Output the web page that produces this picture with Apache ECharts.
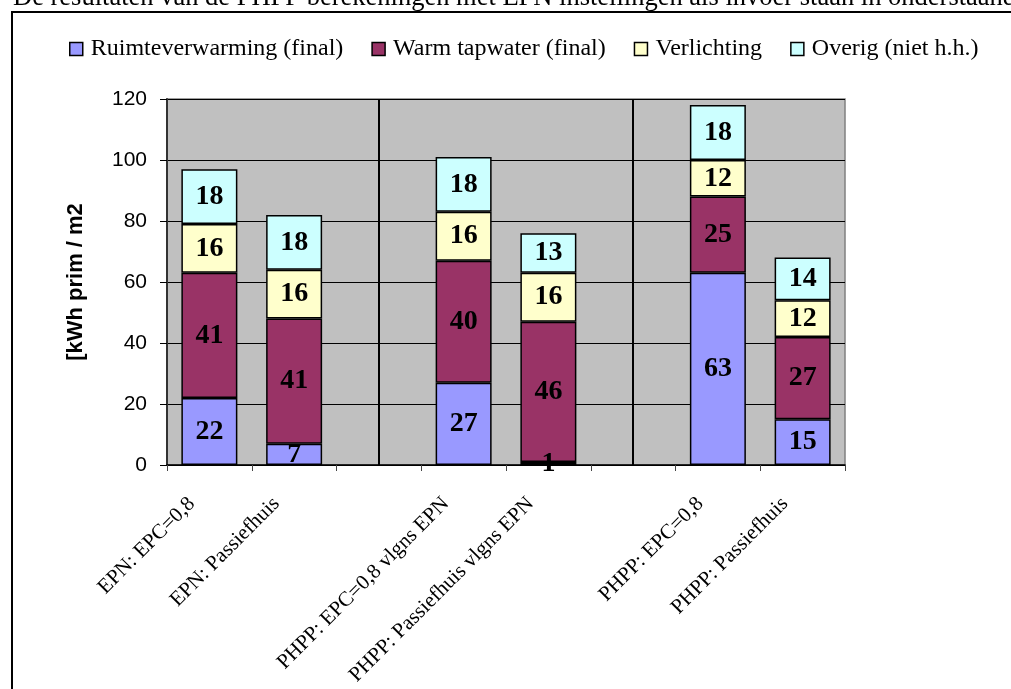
<!DOCTYPE html>
<html>
<head>
<meta charset="utf-8">
<script src="https://cdn.jsdelivr.net/npm/echarts@6/dist/echarts.min.js"></script>
<style>
  html, body { margin: 0; padding: 0; background: #fff; }
  #main { width: 1011px; height: 689px; }
</style>
</head>
<body>
<div id="main"></div>
<script>
// categories (empty slots hold the separator lines)
const categories = [
  'EPN: EPC=0,8',
  'EPN: Passiefhuis',
  '',
  'PHPP: EPC=0,8 vlgns EPN',
  'PHPP: Passiefhuis vlgns EPN',
  ' ',
  'PHPP: EPC=0,8',
  'PHPP: Passiefhuis'
];
const seriesNames = ['Ruimteverwarming (final)', 'Warm tapwater (final)', 'Verlichting', 'Overig (niet h.h.)'];
const colors = ['#9999FF', '#993366', '#FFFFCC', '#CCFFFF'];

const ruimte      = [22, 7, null, 27, 1, null, 63, 15];
const warm        = [41, 41, null, 40, 46, null, 25, 27];
const verlichting = [16, 16, null, 16, 16, null, 12, 12];
const overig      = [18, 18, null, 18, 13, null, 18, 14];

const separators = [2, 5];

const yMin = 0, yMax = 120, yStep = 20;

const serif = '"Liberation Serif", "Times New Roman", serif';
const sans = '"Liberation Sans", Arial, sans-serif';

const chart = echarts.init(document.getElementById('main'));

function makeSeries(name, data, color, idx) {
  let s = {
    name: name,
    type: 'bar',
    stack: 'total',
    barWidth: 56,
    data: data,
    itemStyle: {
      color: color,
      borderColor: '#000',
      borderWidth: 1.5
    },
    label: {
      show: true,
      position: 'inside',
      color: '#000',
      fontFamily: serif,
      fontWeight: 'bold',
      fontSize: 28
    },
    emphasis: { disabled: true }
  };
  if (idx === 0) {
    // vertical separator lines between the groups
    s.markLine = {
      silent: true,
      symbol: ['none', 'none'],
      label: { show: false },
      lineStyle: { color: '#000', width: 2, type: 'solid' },
      data: separators.map(i => ({ xAxis: i }))
    };
  }
  return s;
}

let option = {
  animation: false,
  backgroundColor: '#fff',
  graphic: [
    {
      type: 'text',
      left: 13,
      top: -15,
      style: {
        text: 'De resultaten van de PHPP berekeningen met EPN instellingen als invoer staan in onderstaande',
        font: '26.5px "Liberation Serif", "Times New Roman", serif',
        fill: '#000'
      }
    },
    {
      type: 'rect',
      shape: { x: 12, y: 12, width: 1100, height: 800 },
      style: { fill: 'none', stroke: '#000', lineWidth: 2 }
    }
  ],
  legend: {
    left: 64,
    top: 32,
    itemWidth: 13,
    itemHeight: 13,
    itemGap: 28,
    icon: 'rect',
    itemStyle: { borderColor: '#000', borderWidth: 1.5 },
    textStyle: {
      fontFamily: serif,
      fontSize: 24,
      color: '#000',
      padding: [0, 0, 0, 3]
    },
    data: seriesNames
  },
  grid: {
    left: 167,
    right: 166,
    top: 99,
    bottom: 224,
    show: true,
    backgroundColor: '#C0C0C0',
    borderColor: '#808080',
    borderWidth: 1.5,
    containLabel: false,
    outerBoundsMode: 'none'
  },
  xAxis: {
    type: 'category',
    data: categories,
    axisLine: { show: true, lineStyle: { color: '#000', width: 1.5 } },
    axisTick: { show: true, length: 6, interval: 0, lineStyle: { color: '#444' } },
    axisLabel: {
      interval: 0,
      rotate: 45,
      margin: 18,
      padding: [0, 25, 0, 0],
      color: '#000',
      fontFamily: serif,
      fontSize: 21
    },
    splitLine: { show: false }
  },
  yAxis: {
    type: 'value',
    min: yMin,
    max: yMax,
    interval: yStep,
    name: '[kWh prim / m2',
    nameLocation: 'middle',
    nameGap: 80,
    nameMoveOverlap: false,
    nameTextStyle: {
      fontFamily: sans,
      fontWeight: 'bold',
      fontSize: 22,
      color: '#000'
    },
    axisLine: { show: true, lineStyle: { color: '#333', width: 2 } },
    axisTick: { show: true, length: 7, lineStyle: { color: '#000' } },
    axisLabel: {
      margin: 20,
      color: '#000',
      fontFamily: sans,
      fontSize: 21
    },
    splitLine: { show: true, lineStyle: { color: '#000', width: 1 } }
  },
  series: [
    makeSeries(seriesNames[0], ruimte, colors[0], 0),
    makeSeries(seriesNames[1], warm, colors[1], 1),
    makeSeries(seriesNames[2], verlichting, colors[2], 2),
    makeSeries(seriesNames[3], overig, colors[3], 3)
  ]
};

chart.setOption(option);
</script>
</body>
</html>
